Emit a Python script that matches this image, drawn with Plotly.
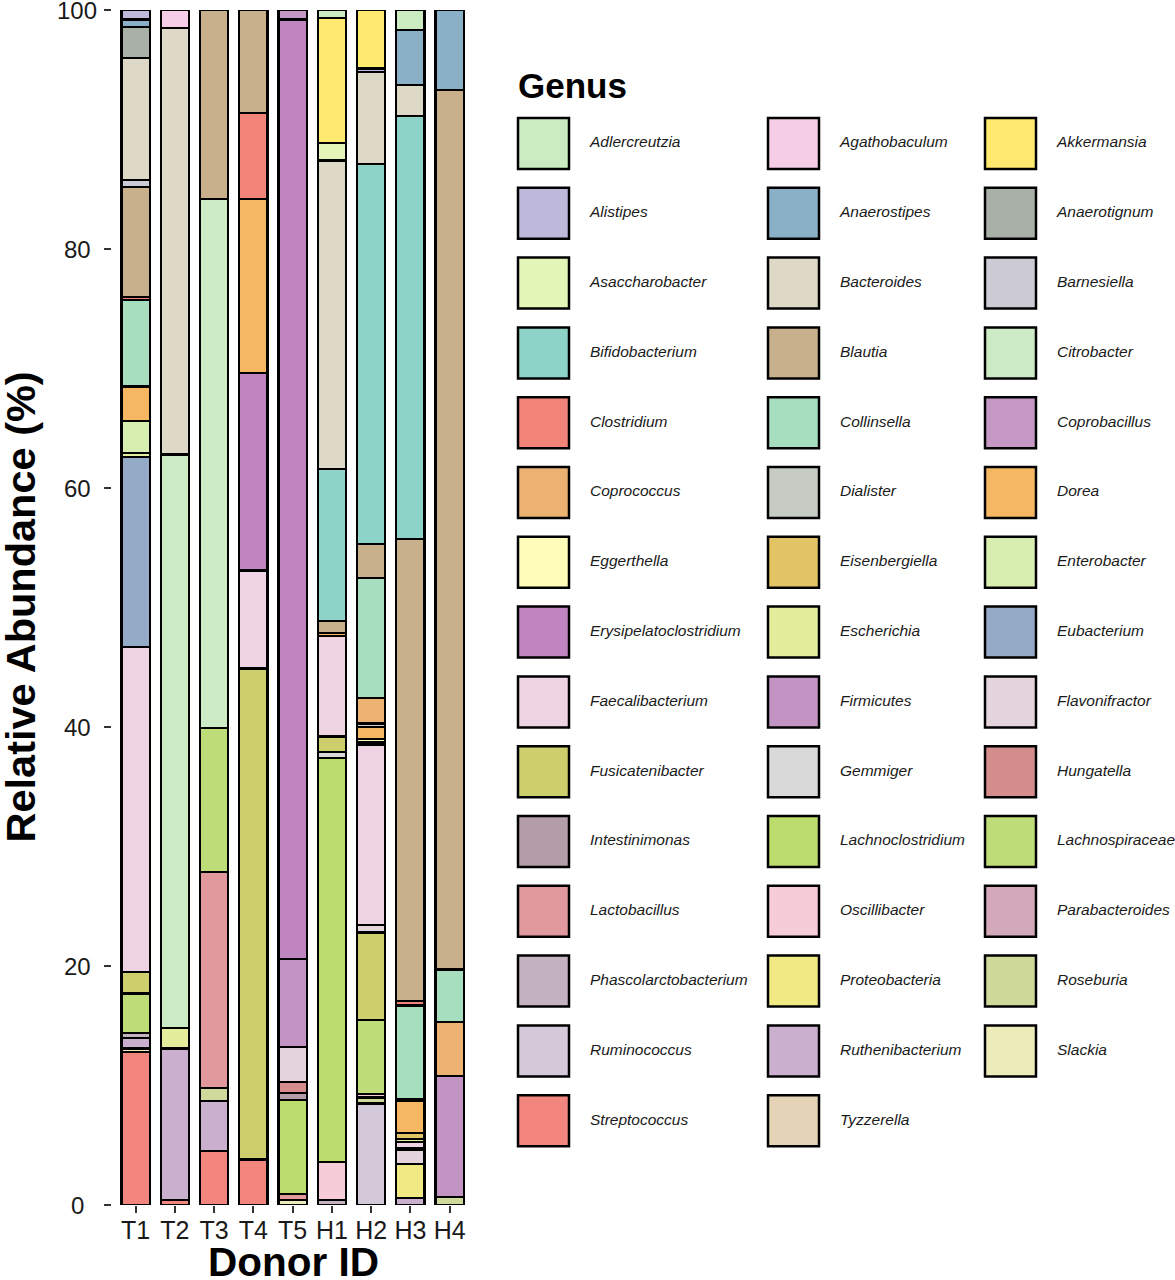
import plotly.graph_objects as go

donors = ["T1", "T2", "T3", "T4", "T5", "H1", "H2", "H3", "H4"]

genera = [
    "Adlercreutzia", "Agathobaculum", "Akkermansia", "Alistipes", "Anaerostipes",
    "Anaerotignum", "Asaccharobacter", "Bacteroides", "Barnesiella", "Bifidobacterium",
    "Blautia", "Citrobacter", "Clostridium", "Collinsella", "Coprobacillus",
    "Coprococcus", "Dialister", "Dorea", "Eggerthella", "Eisenbergiella",
    "Enterobacter", "Erysipelatoclostridium", "Escherichia", "Eubacterium", "Faecalibacterium",
    "Firmicutes", "Flavonifractor", "Fusicatenibacter", "Gemmiger", "Hungatella",
    "Intestinimonas", "Lachnoclostridium", "Lachnospiraceae", "Lactobacillus", "Oscillibacter",
    "Parabacteroides", "Phascolarctobacterium", "Proteobacteria", "Roseburia", "Ruminococcus",
    "Ruthenibacterium", "Slackia", "Streptococcus", "Tyzzerella",
]

colors = [
    "#CBEBC0", "#F5CDE6", "#FFE96E", "#BEB9DA", "#8AB0C8",
    "#A8B0A7", "#E4F5B8", "#DDD9C6", "#CCCAD4", "#8ED3C7",
    "#C9B08C", "#CCEBC5", "#F3847A", "#A8DEC0", "#C497C4",
    "#EBB272", "#C6CCC3", "#F5B762", "#FFFDB8", "#E2C464",
    "#D8EDB0", "#C084C0", "#E3ED9C", "#94AAC7", "#EED3E2",
    "#C194C3", "#E4D5DC", "#CDCF6C", "#D9D9D9", "#D48C8C",
    "#B29DA8", "#BCDC6E", "#BEDD78", "#E2999E", "#F6CCD8",
    "#D3A8B8", "#C4B1C2", "#F1EA84", "#CFD99A", "#D4C9D8",
    "#CAAFCE", "#EEEBBA", "#F2857E", "#E4D3B7",
]

y_ticks = [0, 20, 40, 60, 80, 100]

# relative abundance (%) per donor
T1 = {"Streptococcus": 12.8, "Slackia": 0.3, "Ruthenibacterium": 0.9, "Phascolarctobacterium": 0.4,
      "Lachnospiraceae": 3.3, "Fusicatenibacter": 1.8, "Faecalibacterium": 27.2, "Eubacterium": 15.9,
      "Escherichia": 0.3, "Enterobacter": 2.7, "Dorea": 2.9, "Collinsella": 7.2, "Clostridium": 0.3,
      "Blautia": 9.2, "Barnesiella": 0.6, "Bacteroides": 10.2, "Anaerotignum": 2.6,
      "Anaerostipes": 0.6, "Alistipes": 0.8}
T2 = {"Streptococcus": 0.4, "Ruthenibacterium": 12.7, "Escherichia": 1.7, "Citrobacter": 48.0,
      "Bacteroides": 35.7, "Agathobaculum": 1.5}
T3 = {"Streptococcus": 4.5, "Ruthenibacterium": 4.2, "Roseburia": 1.1, "Lactobacillus": 18.1,
      "Lachnospiraceae": 12.0, "Citrobacter": 44.3, "Blautia": 15.8}
T4 = {"Streptococcus": 3.8, "Fusicatenibacter": 41.1, "Faecalibacterium": 8.2,
      "Erysipelatoclostridium": 16.5, "Dorea": 14.6, "Clostridium": 7.2, "Blautia": 8.6}
T5 = {"Slackia": 0.4, "Lactobacillus": 0.5, "Lachnoclostridium": 7.9, "Intestinimonas": 0.6,
      "Hungatella": 0.9, "Flavonifractor": 2.9, "Firmicutes": 7.4, "Erysipelatoclostridium": 78.6,
      "Coprobacillus": 0.8}
H1 = {"Phascolarctobacterium": 0.4, "Oscillibacter": 3.2, "Lachnoclostridium": 33.8, "Gemmiger": 0.5,
      "Fusicatenibacter": 1.3, "Faecalibacterium": 8.4, "Dorea": 0.3, "Blautia": 1.0,
      "Bifidobacterium": 12.7, "Bacteroides": 25.8, "Asaccharobacter": 1.5, "Akkermansia": 10.4,
      "Adlercreutzia": 0.7}
H2 = {"Ruminococcus": 8.5, "Roseburia": 0.5, "Oscillibacter": 0.3, "Lachnospiraceae": 6.2,
      "Fusicatenibacter": 7.3, "Flavonifractor": 0.6, "Faecalibacterium": 15.1, "Eisenbergiella": 0.2,
      "Eggerthella": 0.3, "Dorea": 1.0, "Dialister": 0.3, "Coprococcus": 2.1, "Collinsella": 10.1,
      "Blautia": 2.8, "Bifidobacterium": 31.8, "Bacteroides": 7.7, "Alistipes": 0.3, "Akkermansia": 4.9}
H3 = {"Ruthenibacterium": 0.6, "Proteobacteria": 2.8, "Flavonifractor": 1.2, "Firmicutes": 0.2,
      "Faecalibacterium": 0.5, "Escherichia": 0.2, "Eisenbergiella": 0.5, "Dorea": 2.7,
      "Coprococcus": 0.2, "Collinsella": 7.8, "Clostridium": 0.4, "Blautia": 38.6,
      "Bifidobacterium": 35.4, "Bacteroides": 2.6, "Anaerostipes": 4.6, "Adlercreutzia": 1.7}
H4 = {"Roseburia": 0.7, "Firmicutes": 10.1, "Coprococcus": 4.5, "Collinsella": 4.4,
      "Blautia": 73.6, "Anaerostipes": 6.7}

compositions = [T1, T2, T3, T4, T5, H1, H2, H3, H4]

# ---- layout constants (pixels) ----
W, H = 1175, 1280
ML, MR, MT, MB = 112, 0, 10, 75
PW = W - ML - MR
PH = H - MT - MB
bar_dom = 361.2 / PW
leg_dom0 = 0.38
FONT = "Liberation Sans, Arial, Helvetica, sans-serif"
TXT = "#1a1a1a"

fig = go.Figure()

# stacked bars: alphabetical order from top, so add in reverse
for g, c in zip(reversed(genera), reversed(colors)):
    vals = [comp.get(g) for comp in compositions]
    if all(v is None for v in vals):
        continue
    fig.add_trace(go.Bar(
        x=donors, y=vals, name=g, width=0.72,
        marker=dict(color=c, line=dict(color="black", width=2.2)),
        showlegend=False, cliponaxis=False,
        hovertemplate="%{x}<br>" + g + ": %{y}%<extra></extra>",
    ))

# custom legend (3 columns, row-major)
col_x = [543.5, 793.5, 1010.5]
row_y0, row_dy = 143.5, 69.8
box = 51
lx = [col_x[i % 3] for i in range(len(genera))]
ly = [row_y0 + (i // 3) * row_dy for i in range(len(genera))]
fig.add_trace(go.Scatter(
    x=lx, y=ly, mode="markers", xaxis="x2", yaxis="y2",
    marker=dict(symbol="square", size=box, color=colors, line=dict(color="black", width=2.5)),
    showlegend=False, hoverinfo="skip", cliponaxis=False,
))
fig.add_trace(go.Scatter(
    x=[v + box / 2 + 21 for v in lx], y=ly, mode="text", xaxis="x2", yaxis="y2",
    text=genera, textposition="middle right",
    textfont=dict(family=FONT, size=15.5, style="italic", color=TXT),
    showlegend=False, hoverinfo="skip", cliponaxis=False,
))

# y tick labels (centred, as in the reference)
ytick_ann = [
    dict(text=str(v), xref="paper", yref="y", x=(77 - ML) / PW, y=v,
         xanchor="center", yanchor="middle", showarrow=False,
         font=dict(family=FONT, size=24, color=TXT))
    for v in y_ticks
]

fig.update_layout(
    width=W, height=H,
    margin=dict(l=ML, r=MR, t=MT, b=MB, autoexpand=False),
    paper_bgcolor="white", plot_bgcolor="white",
    barmode="stack",
    font=dict(family=FONT, color=TXT),
    xaxis=dict(
        domain=[0, bar_dom], range=[-0.6, 8.6], type="category",
        showline=False, showgrid=False, zeroline=False,
        ticks="outside", ticklen=7, tickwidth=1.6, tickcolor="#333333",
        tickfont=dict(family=FONT, size=25, color=TXT), ticklabelstandoff=-4,
    ),
    yaxis=dict(
        range=[0, 100], tickvals=y_ticks, showticklabels=False,
        showline=False, showgrid=False, zeroline=False,
        ticks="outside", ticklen=7, tickwidth=1.6, tickcolor="#333333",
    ),
    xaxis2=dict(domain=[leg_dom0, 1], range=[ML + leg_dom0 * PW, W], anchor="y2", visible=False),
    yaxis2=dict(domain=[0, 1], range=[MT + PH, MT], anchor="x2", visible=False),
    annotations=ytick_ann + [
        dict(text="Relative Abundance (%)", textangle=-90, xref="paper", yref="paper",
             x=(20 - ML) / PW, y=0.5, xanchor="center", yanchor="middle", showarrow=False,
             font=dict(family=FONT, size=41.5, weight="bold", color="black")),
        dict(text="Donor ID", xref="paper", yref="paper",
             x=(293 - ML) / PW, y=(MT + PH - 1262) / PH, xanchor="center", yanchor="middle",
             showarrow=False, font=dict(family=FONT, size=40.5, weight="bold", color="black")),
        dict(text="Genus", xref="x2", yref="y2", x=516, y=85, xanchor="left", yanchor="middle",
             showarrow=False, font=dict(family=FONT, size=35, weight="bold", color="black")),
    ],
)

fig.write_html("out.html", config={"displayModeBar": False},
               post_script="document.body.style.margin='0px';")
